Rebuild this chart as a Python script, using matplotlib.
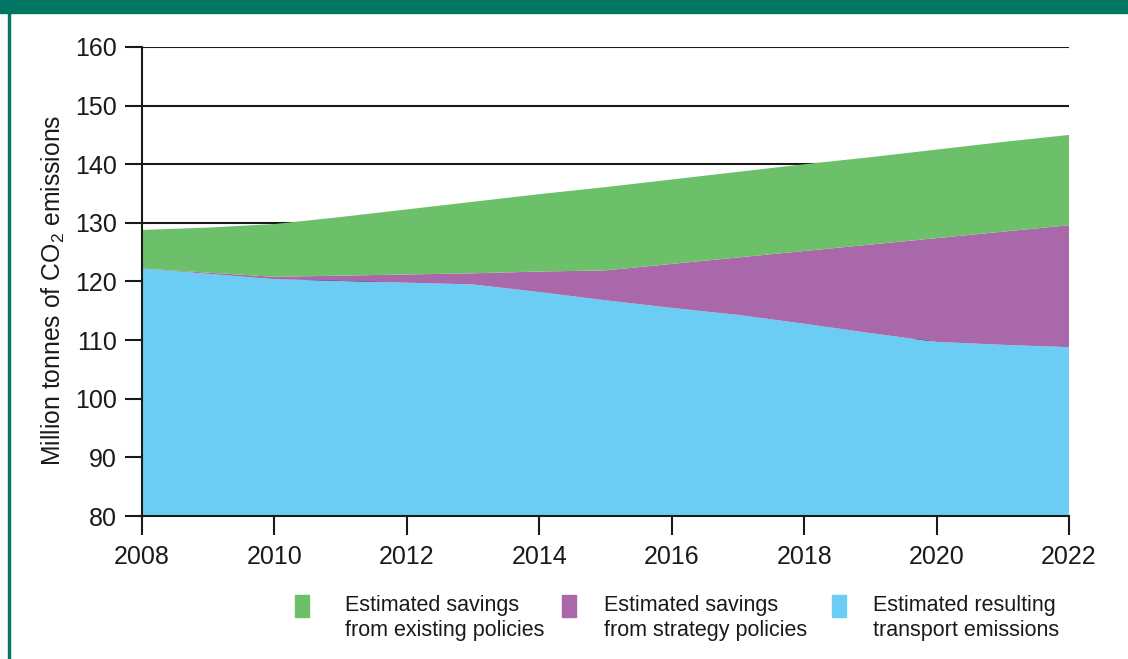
import matplotlib
matplotlib.use('Agg')
import matplotlib.pyplot as plt
from matplotlib.patches import Rectangle

plt.rcParams['font.family'] = ['Liberation Sans', 'DejaVu Sans']

years = list(range(2008, 2023))
# resulting transport emissions (bottom layer)
transport = [122.2, 121.3, 120.4, 120.1, 119.8, 119.5, 118.2, 116.8,
             115.5, 114.3, 112.8, 111.2, 109.7, 109.2, 108.8]
# savings from strategy policies (middle layer)
strategy = [0.0, 0.2, 0.4, 0.9, 1.4, 1.9, 3.5, 5.1,
            7.5, 9.8, 12.4, 15.1, 17.7, 19.3, 20.8]
# savings from existing policies (top layer)
existing = [6.6, 7.7, 9.0, 10.0, 11.1, 12.2, 13.2, 14.2,
            14.4, 14.6, 14.8, 14.9, 15.1, 15.3, 15.4]

labels = ["Estimated savings\nfrom existing policies",
          "Estimated savings\nfrom strategy policies",
          "Estimated resulting\ntransport emissions"]
c_green = "#6cc06a"
c_purple = "#a868a9"
c_blue = "#6bcdf4"
teal = "#007763"
ink = "#1a1a1a"

W, H = 1128, 659
fig = plt.figure(figsize=(W / 100, H / 100), dpi=100)
ax = fig.add_axes([142/W, 1 - 516/H, 927/W, 469/H])

ax.stackplot(years, transport, strategy, existing,
             colors=[c_blue, c_purple, c_green], linewidth=0, zorder=3)

ax.set_xlim(2008, 2022)
ax.set_ylim(80, 160)
ax.set_xticks(range(2008, 2023, 2))
ax.set_yticks(range(80, 161, 10))
ax.yaxis.grid(True, color=ink, linewidth=1.5, zorder=1)
ax.set_axisbelow(True)

for s in ['top', 'right']:
    ax.spines[s].set_visible(False)
for s in ['left', 'bottom']:
    ax.spines[s].set_linewidth(1.5)
    ax.spines[s].set_color(ink)
    ax.spines[s].set_zorder(4)

ax.tick_params(axis='both', labelsize=18, colors=ink, width=1.5,
               length=12, pad=6)
ax.tick_params(axis='x', length=14, pad=7)
ax.set_ylabel(r"Million tonnes of CO$\mathregular{_2}$ emissions", fontsize=17.8,
              color=ink, labelpad=6, y=0.482)

# header band and left border
fig.patches.append(Rectangle((0, 1 - 13/H), 1, 13/H, transform=fig.transFigure,
                             color=teal, zorder=0))
fig.patches.append(Rectangle((7.5/W, 0), 2/W, 1, transform=fig.transFigure,
                             color=teal, zorder=0))

# legend, laid out by hand to match the original spacing
patch_x = [295, 562, 832]
text_x = [345, 604, 873]
for px, tx, c, lab in zip(patch_x, text_x, [c_green, c_purple, c_blue], labels):
    fig.patches.append(Rectangle((px/W, 1 - 617/H), 14/W, 22/H,
                                 transform=fig.transFigure, color=c))
    fig.text(tx/W, 1 - 595/H, lab, fontsize=15.5, color=ink, ha='left', va='top',
             linespacing=1.28)

fig.savefig("out.png", dpi=100)
